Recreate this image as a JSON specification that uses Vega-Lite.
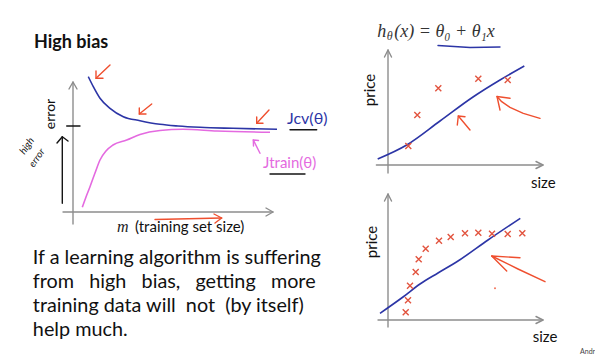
{
  "$schema": "https://vega.github.io/schema/vega-lite/v6.json",
  "padding": 0,
  "background": "white",
  "bounds": "flush",
  "columns": 2,
  "spacing": 10,
  "config": {"view": {"stroke": null}, "font": "Lato"},
  "resolve": {"scale": {"color": "independent"}},
  "datasets": {
    "lcCurves": [
      {"curve": "J_cv", "m": 7.65, "error": 1.353},
      {"curve": "J_cv", "m": 10.15, "error": 1.253},
      {"curve": "J_cv", "m": 13.5, "error": 1.137},
      {"curve": "J_cv", "m": 18.5, "error": 1.037},
      {"curve": "J_cv", "m": 25.15, "error": 0.953},
      {"curve": "J_cv", "m": 33.5, "error": 0.913},
      {"curve": "J_cv", "m": 43.5, "error": 0.877},
      {"curve": "J_cv", "m": 52.5, "error": 0.86},
      {"curve": "J_cv", "m": 63.5, "error": 0.847},
      {"curve": "J_cv", "m": 80, "error": 0.837},
      {"curve": "J_cv", "m": 102, "error": 0.827},
      {"curve": "J_train", "m": 4.65, "error": 0.047},
      {"curve": "J_train", "m": 6.5, "error": 0.15},
      {"curve": "J_train", "m": 8.5, "error": 0.253},
      {"curve": "J_train", "m": 11, "error": 0.39},
      {"curve": "J_train", "m": 13.5, "error": 0.52},
      {"curve": "J_train", "m": 16.5, "error": 0.61},
      {"curve": "J_train", "m": 20, "error": 0.67},
      {"curve": "J_train", "m": 26.85, "error": 0.72},
      {"curve": "J_train", "m": 33.5, "error": 0.775},
      {"curve": "J_train", "m": 43.5, "error": 0.815},
      {"curve": "J_train", "m": 55, "error": 0.827},
      {"curve": "J_train", "m": 72, "error": 0.81},
      {"curve": "J_train", "m": 98.5, "error": 0.797}
    ],
    "lcStrokes": [
      {"pen": "axis", "id": "yaxis", "i": 0, "m": 0, "error": -0.12},
      {"pen": "axis", "id": "yaxis", "i": 1, "m": 0, "error": 1.3},
      {"pen": "axis", "id": "yhead", "i": 0, "m": -2, "error": 1.23},
      {"pen": "axis", "id": "yhead", "i": 1, "m": 0, "error": 1.3},
      {"pen": "axis", "id": "yhead", "i": 2, "m": 2, "error": 1.23},
      {"pen": "axis", "id": "xaxis", "i": 0, "m": -5, "error": 0},
      {"pen": "axis", "id": "xaxis", "i": 1, "m": 100, "error": 0},
      {"pen": "axis", "id": "xhead", "i": 0, "m": 96.5, "error": 0.04},
      {"pen": "axis", "id": "xhead", "i": 1, "m": 100, "error": 0},
      {"pen": "axis", "id": "xhead", "i": 2, "m": 96.5, "error": -0.04},
      {"pen": "black", "id": "tick", "i": 0, "m": -3.15, "error": 0.86},
      {"pen": "black", "id": "tick", "i": 1, "m": 3.5, "error": 0.86},
      {"pen": "black", "id": "up", "i": 0, "m": -5.35, "error": 0.087},
      {"pen": "black", "id": "up", "i": 1, "m": -5.35, "error": 0.753},
      {"pen": "black", "id": "uphead", "i": 0, "m": -8, "error": 0.69},
      {"pen": "black", "id": "uphead", "i": 1, "m": -5.35, "error": 0.753},
      {"pen": "black", "id": "uphead", "i": 2, "m": -2.5, "error": 0.71},
      {"pen": "black", "id": "ucv", "i": 0, "m": 108.5, "error": 0.822},
      {"pen": "black", "id": "ucv", "i": 1, "m": 121.85, "error": 0.822},
      {"pen": "black", "id": "utr", "i": 0, "m": 98.5, "error": 0.38},
      {"pen": "black", "id": "utr", "i": 1, "m": 116, "error": 0.38},
      {"pen": "red", "id": "a1", "i": 0, "m": 18.5, "error": 1.47},
      {"pen": "red", "id": "a1", "i": 1, "m": 11.5, "error": 1.337},
      {"pen": "red", "id": "a1h", "i": 0, "m": 11.5, "error": 1.41},
      {"pen": "red", "id": "a1h", "i": 1, "m": 11.5, "error": 1.337},
      {"pen": "red", "id": "a1h", "i": 2, "m": 15, "error": 1.337},
      {"pen": "red", "id": "a2", "i": 0, "m": 39.35, "error": 1.08},
      {"pen": "red", "id": "a2", "i": 1, "m": 33.15, "error": 0.98},
      {"pen": "red", "id": "a2h", "i": 0, "m": 33.15, "error": 1.04},
      {"pen": "red", "id": "a2h", "i": 1, "m": 33.15, "error": 0.98},
      {"pen": "red", "id": "a2h", "i": 2, "m": 36.5, "error": 0.98},
      {"pen": "red", "id": "a3", "i": 0, "m": 98, "error": 1.02},
      {"pen": "red", "id": "a3", "i": 1, "m": 91.85, "error": 0.887},
      {"pen": "red", "id": "a3h", "i": 0, "m": 91.85, "error": 0.95},
      {"pen": "red", "id": "a3h", "i": 1, "m": 91.85, "error": 0.887},
      {"pen": "red", "id": "a3h", "i": 2, "m": 95, "error": 0.887},
      {"pen": "red", "id": "a4", "i": 0, "m": 41, "error": -0.075},
      {"pen": "red", "id": "a4", "i": 1, "m": 74.35, "error": -0.06},
      {"pen": "red", "id": "a4h", "i": 0, "m": 70.5, "error": -0.02},
      {"pen": "red", "id": "a4h", "i": 1, "m": 74.35, "error": -0.06},
      {"pen": "red", "id": "a4h", "i": 2, "m": 71, "error": -0.11},
      {"pen": "magenta", "id": "a5", "i": 0, "m": 93.5, "error": 0.587},
      {"pen": "magenta", "id": "a5", "i": 1, "m": 90.15, "error": 0.72},
      {"pen": "magenta", "id": "a5h", "i": 0, "m": 92.75, "error": 0.715},
      {"pen": "magenta", "id": "a5h", "i": 1, "m": 90.15, "error": 0.72},
      {"pen": "magenta", "id": "a5h", "i": 2, "m": 90.25, "error": 0.66}
    ],
    "topStrokes": [
      {"pen": "axis", "id": "yaxis", "i": 0, "size": 0, "price": -8},
      {"pen": "axis", "id": "yaxis", "i": 1, "size": 0, "price": 115},
      {"pen": "axis", "id": "yhead", "i": 0, "size": -3.5, "price": 108},
      {"pen": "axis", "id": "yhead", "i": 1, "size": 0, "price": 115},
      {"pen": "axis", "id": "yhead", "i": 2, "size": 3.5, "price": 108},
      {"pen": "axis", "id": "xaxis", "i": 0, "size": -11.6, "price": 0},
      {"pen": "axis", "id": "xaxis", "i": 1, "size": 155, "price": 0},
      {"pen": "axis", "id": "xhead", "i": 0, "size": 148, "price": 3.5},
      {"pen": "axis", "id": "xhead", "i": 1, "size": 155, "price": 0},
      {"pen": "axis", "id": "xhead", "i": 2, "size": 148, "price": -3.5},
      {"pen": "blue", "id": "under", "i": 0, "size": 50, "price": 119.5},
      {"pen": "blue", "id": "under", "i": 1, "size": 82, "price": 117.5},
      {"pen": "blue", "id": "under", "i": 2, "size": 112, "price": 118},
      {"pen": "red", "id": "s1", "i": 0, "size": 82, "price": 35},
      {"pen": "red", "id": "s1", "i": 1, "size": 70.3, "price": 49},
      {"pen": "red", "id": "s1h", "i": 0, "size": 77, "price": 48.3},
      {"pen": "red", "id": "s1h", "i": 1, "size": 70.3, "price": 49},
      {"pen": "red", "id": "s1h", "i": 2, "size": 69.3, "price": 40},
      {"pen": "red", "id": "c1", "i": 0, "size": 152, "price": 46.7},
      {"pen": "red", "id": "c1", "i": 1, "size": 135.3, "price": 51.7},
      {"pen": "red", "id": "c1", "i": 2, "size": 122, "price": 57.7},
      {"pen": "red", "id": "c1", "i": 3, "size": 113.7, "price": 63.3},
      {"pen": "red", "id": "c1", "i": 4, "size": 109, "price": 68.5},
      {"pen": "red", "id": "c1h", "i": 0, "size": 122, "price": 66.7},
      {"pen": "red", "id": "c1h", "i": 1, "size": 109, "price": 68.5},
      {"pen": "red", "id": "c1h", "i": 2, "size": 112, "price": 55}
    ],
    "botStrokes": [
      {"pen": "axis", "id": "yaxis", "i": 0, "size": 0, "price": -7},
      {"pen": "axis", "id": "yaxis", "i": 1, "size": 0, "price": 126},
      {"pen": "axis", "id": "yhead", "i": 0, "size": -3.5, "price": 119},
      {"pen": "axis", "id": "yhead", "i": 1, "size": 0, "price": 126},
      {"pen": "axis", "id": "yhead", "i": 2, "size": 3.5, "price": 119},
      {"pen": "axis", "id": "xaxis", "i": 0, "size": -10, "price": 0},
      {"pen": "axis", "id": "xaxis", "i": 1, "size": 155, "price": 0},
      {"pen": "axis", "id": "xhead", "i": 0, "size": 148, "price": 3.5},
      {"pen": "axis", "id": "xhead", "i": 1, "size": 155, "price": 0},
      {"pen": "axis", "id": "xhead", "i": 2, "size": 148, "price": -3.5},
      {"pen": "red", "id": "b1", "i": 0, "size": 157, "price": 38.3},
      {"pen": "red", "id": "b1", "i": 1, "size": 130, "price": 51},
      {"pen": "red", "id": "b1", "i": 2, "size": 103.7, "price": 64},
      {"pen": "red", "id": "b1h", "i": 0, "size": 132, "price": 62.3},
      {"pen": "red", "id": "b1h", "i": 1, "size": 103.7, "price": 64},
      {"pen": "red", "id": "b1h", "i": 2, "size": 118.7, "price": 49}
    ],
    "topPoints": [
      {"size": 20.3, "price": 19},
      {"size": 29.3, "price": 50},
      {"size": 50.3, "price": 76.7},
      {"size": 90.3, "price": 86.3},
      {"size": 119.7, "price": 85}
    ],
    "topFit": [
      {"size": -10.3, "price": 6},
      {"size": 18.7, "price": 20},
      {"size": 52, "price": 44},
      {"size": 85, "price": 68},
      {"size": 112, "price": 85},
      {"size": 136.3, "price": 99}
    ],
    "botPoints": [
      {"size": 17.7, "price": 7.7},
      {"size": 20, "price": 19.7},
      {"size": 22, "price": 34.3},
      {"size": 27.7, "price": 48},
      {"size": 30.7, "price": 60.7},
      {"size": 37.7, "price": 71.3},
      {"size": 51, "price": 79.3},
      {"size": 62.7, "price": 83},
      {"size": 77, "price": 86.7},
      {"size": 90.3, "price": 87.3},
      {"size": 104, "price": 86.3},
      {"size": 119.7, "price": 86},
      {"size": 134.3, "price": 86.7}
    ],
    "botFit": [
      {"size": -8, "price": 6.7},
      {"size": 15, "price": 23},
      {"size": 32, "price": 36},
      {"size": 50, "price": 47},
      {"size": 70, "price": 59},
      {"size": 100, "price": 80},
      {"size": 132.3, "price": 101.7}
    ],
    "bodyText": [
      {"line": 1, "text": "If a learning algorithm is suffering"},
      {"line": 2, "text": "from\u00a0\u00a0 high\u00a0\u00a0 bias,\u00a0\u00a0 getting\u00a0\u00a0 more"},
      {"line": 3, "text": "training data will\u00a0 not\u00a0 (by itself)"},
      {"line": 4, "text": "help much."}
    ]
  },
  "concat": [
    {
      "width": 368,
      "height": 182,
      "resolve": {"scale": {"color": "independent"}},
      "encoding": {
        "x": {"field": "m", "type": "quantitative", "scale": {"domain": [-36.5, 147.5], "nice": false, "zero": false}, "axis": null},
        "y": {"field": "error", "type": "quantitative", "scale": {"domain": [0.3, 2.12], "nice": false, "zero": false}, "axis": null}
      },
      "layer": [
        {
          "data": {"name": "lcStrokes"},
          "mark": {"type": "line", "strokeWidth": 1.4, "strokeCap": "round", "strokeJoin": "round"},
          "encoding": {
            "color": {"field": "pen", "type": "nominal", "scale": {"domain": ["axis", "black", "red", "magenta"], "range": ["#8d8d8d", "#151515", "#ef4f2f", "#e46ae0"]}, "legend": null},
            "detail": {"field": "id"},
            "order": {"field": "i"}
          }
        },
        {
          "data": {"name": "lcCurves"},
          "mark": {"type": "line", "strokeWidth": 1.6, "interpolate": "monotone"},
          "encoding": {
            "color": {"field": "curve", "type": "nominal", "scale": {"domain": ["J_cv", "J_train"], "range": ["#2c35a6", "#e46ae0"]}, "legend": null}
          }
        },
        {
          "data": {"values": [{"text": "High bias", "m": -19.5, "error": 1.69}]},
          "mark": {"type": "text", "align": "left", "baseline": "middle", "font": "Lato", "fontSize": 18, "fontWeight": "bold", "color": "#111111"},
          "encoding": {"text": {"field": "text"}}
        },
        {
          "data": {"values": [{"text": "error", "m": -11, "error": 0.98}]},
          "mark": {"type": "text", "align": "center", "baseline": "middle", "angle": 270, "font": "Lato", "fontSize": 14, "color": "#111111"},
          "encoding": {"text": {"field": "text"}}
        },
        {
          "data": {"values": [{"text": "m", "m": 22, "error": -0.147}]},
          "mark": {"type": "text", "align": "left", "baseline": "middle", "font": "Liberation Serif", "fontStyle": "italic", "fontSize": 16, "color": "#222222"},
          "encoding": {"text": {"field": "text"}}
        },
        {
          "data": {"values": [{"text": "(training set size)", "m": 31, "error": -0.152}]},
          "mark": {"type": "text", "align": "left", "baseline": "middle", "font": "Lato", "fontSize": 15, "color": "#111111"},
          "encoding": {"text": {"field": "text"}}
        },
        {
          "data": {"values": [{"text": "Jcv(θ)", "m": 107, "error": 0.935}]},
          "mark": {"type": "text", "align": "left", "baseline": "middle", "font": "Lato", "fontSize": 16, "color": "#2c35a6"},
          "encoding": {"text": {"field": "text"}}
        },
        {
          "data": {"values": [{"text": "Jtrain(θ)", "m": 95, "error": 0.495}]},
          "mark": {"type": "text", "align": "left", "baseline": "middle", "font": "Lato", "fontSize": 15, "color": "#e46ae0"},
          "encoding": {"text": {"field": "text"}}
        },
        {
          "data": {"values": [{"text": "high", "m": -23, "error": 0.66}, {"text": "error", "m": -18, "error": 0.54}]},
          "mark": {"type": "text", "align": "center", "baseline": "middle", "angle": 305, "font": "Lato", "fontStyle": "italic", "fontSize": 10, "color": "#151515"},
          "encoding": {"text": {"field": "text"}}
        }
      ]
    },
    {
      "width": 170,
      "height": 172,
      "encoding": {
        "x": {"field": "size", "type": "quantitative", "scale": {"domain": [-10, 160], "nice": false, "zero": false}, "axis": null},
        "y": {"field": "price", "type": "quantitative", "scale": {"domain": [-7, 165], "nice": false, "zero": false}, "axis": null}
      },
      "layer": [
        {
          "data": {"name": "topStrokes"},
          "mark": {"type": "line", "strokeWidth": 1.4, "strokeCap": "round", "strokeJoin": "round"},
          "encoding": {
            "color": {"field": "pen", "type": "nominal", "scale": {"domain": ["axis", "blue", "red"], "range": ["#8d8d8d", "#2c35a6", "#ef4f2f"]}, "legend": null},
            "detail": {"field": "id"},
            "order": {"field": "i"}
          }
        },
        {
          "data": {"name": "topFit"},
          "mark": {"type": "line", "strokeWidth": 1.6, "color": "#2c35a6", "interpolate": "monotone"}
        },
        {
          "data": {"name": "topPoints"},
          "mark": {"type": "point", "shape": "M-1,-1L1,1M-1,1L1,-1", "filled": false, "size": 36, "strokeWidth": 1.4, "color": "#e2543f", "opacity": 1}
        },
        {
          "data": {"values": [{"text": "h", "size": -10.7, "price": 128.3}]},
          "mark": {"type": "text", "align": "left", "baseline": "alphabetic", "font": "Liberation Serif", "fontStyle": "italic", "fontSize": 18, "color": "#333333"},
          "encoding": {"text": {"field": "text"}}
        },
        {
          "data": {"values": [{"text": "θ", "size": -10.7, "price": 128.3}]},
          "mark": {"type": "text", "align": "left", "baseline": "alphabetic", "dx": 9.5, "dy": 3, "font": "Liberation Serif", "fontStyle": "italic", "fontSize": 12, "color": "#333333"},
          "encoding": {"text": {"field": "text"}}
        },
        {
          "data": {"values": [{"text": "(x) = θ₀ + θ₁x", "size": -10.7, "price": 128.3}]},
          "mark": {"type": "text", "align": "left", "baseline": "alphabetic", "dx": 17, "font": "Liberation Serif", "fontStyle": "italic", "fontSize": 18, "color": "#333333"},
          "encoding": {"text": {"field": "text"}}
        },
        {
          "data": {"values": [{"text": "price", "size": -18, "price": 75}]},
          "mark": {"type": "text", "align": "center", "baseline": "middle", "angle": 270, "font": "Lato", "fontSize": 15, "color": "#111111"},
          "encoding": {"text": {"field": "text"}}
        },
        {
          "data": {"values": [{"text": "size", "size": 155.3, "price": -18.3}]},
          "mark": {"type": "text", "align": "center", "baseline": "middle", "font": "Lato", "fontSize": 15, "color": "#111111"},
          "encoding": {"text": {"field": "text"}}
        }
      ]
    },
    {
      "width": 368,
      "height": 150,
      "data": {"name": "bodyText"},
      "mark": {"type": "text", "align": "left", "baseline": "alphabetic", "font": "Lato", "fontSize": 19.8, "color": "#111111"},
      "encoding": {
        "x": {"datum": 0, "type": "quantitative", "scale": {"domain": [-0.098, 1], "nice": false, "zero": false}, "axis": null},
        "y": {"field": "line", "type": "quantitative", "scale": {"domain": [-2, 4.25], "reverse": true, "nice": false, "zero": false}, "axis": null},
        "text": {"field": "text"}
      }
    },
    {
      "width": 170,
      "height": 135,
      "encoding": {
        "x": {"field": "size", "type": "quantitative", "scale": {"domain": [-10, 160], "nice": false, "zero": false}, "axis": null},
        "y": {"field": "price", "type": "quantitative", "scale": {"domain": [-7, 128], "nice": false, "zero": false}, "axis": null}
      },
      "layer": [
        {
          "data": {"name": "botStrokes"},
          "mark": {"type": "line", "strokeWidth": 1.4, "strokeCap": "round", "strokeJoin": "round"},
          "encoding": {
            "color": {"field": "pen", "type": "nominal", "scale": {"domain": ["axis", "red"], "range": ["#8d8d8d", "#ef4f2f"]}, "legend": null},
            "detail": {"field": "id"},
            "order": {"field": "i"}
          }
        },
        {
          "data": {"name": "botFit"},
          "mark": {"type": "line", "strokeWidth": 1.6, "color": "#2c35a6", "interpolate": "monotone"}
        },
        {
          "data": {"name": "botPoints"},
          "mark": {"type": "point", "shape": "M-1,-1L1,1M-1,1L1,-1", "filled": false, "size": 36, "strokeWidth": 1.4, "color": "#e2543f", "opacity": 1}
        },
        {
          "data": {"values": [{"size": 107, "price": 31.7}]},
          "mark": {"type": "point", "filled": true, "size": 4, "color": "#ef4f2f", "opacity": 0.8}
        },
        {
          "data": {"values": [{"text": "price", "size": -16, "price": 78}]},
          "mark": {"type": "text", "align": "center", "baseline": "middle", "angle": 270, "font": "Lato", "fontSize": 15, "color": "#111111"},
          "encoding": {"text": {"field": "text"}}
        },
        {
          "data": {"values": [{"text": "size", "size": 157, "price": -16.7}]},
          "mark": {"type": "text", "align": "center", "baseline": "middle", "font": "Lato", "fontSize": 15, "color": "#111111"},
          "encoding": {"text": {"field": "text"}}
        },
        {
          "data": {"values": [{"text": "Andrew Ng", "size": 192, "price": -32}]},
          "mark": {"type": "text", "align": "left", "baseline": "middle", "font": "Lato", "fontSize": 7, "color": "#444444"},
          "encoding": {"text": {"field": "text"}}
        }
      ]
    }
  ]
}
